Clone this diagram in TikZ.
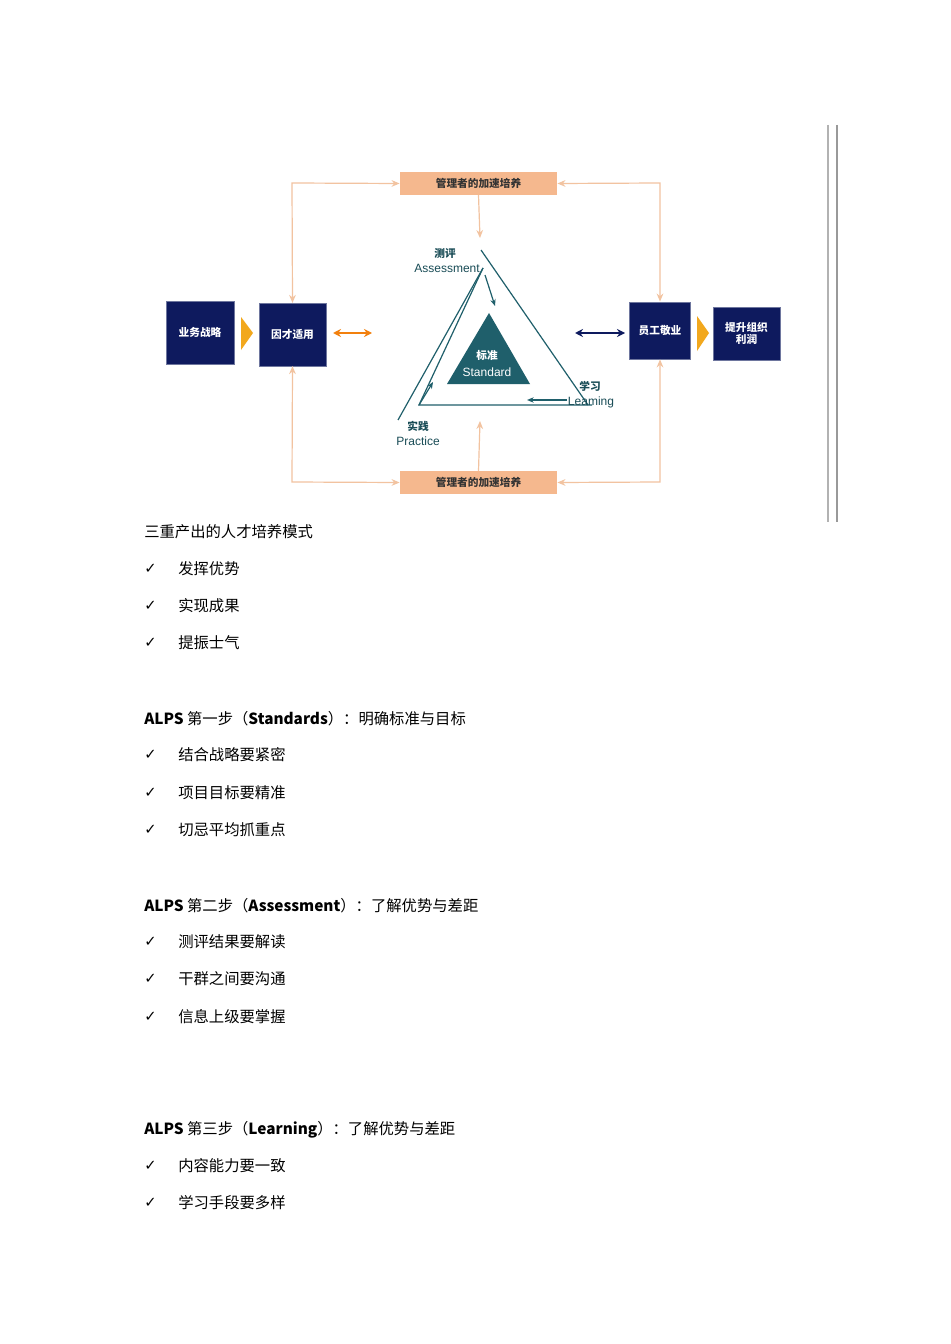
\documentclass[tikz,border=0pt]{standalone}
\usepackage{fontspec}
\setmainfont{Liberation Serif}
\newfontfamily\cjk{Noto Sans CJK SC}
\newfontfamily\dv{DejaVu Sans}
\newfontfamily\lsans{Liberation Sans}
\usetikzlibrary{arrows.meta}
\definecolor{navy}{HTML}{0E1A5E}
\definecolor{org}{HTML}{F5B88E}
\definecolor{orgl}{HTML}{F2C3A0}
\definecolor{teal}{HTML}{1F5F6B}
\definecolor{gold}{HTML}{F2A81D}
\begin{document}
\begin{tikzpicture}[x=0.75pt,y=-0.75pt,
 nbox/.style={draw=navy!60,fill=navy,text=white,font=\cjk\bfseries\fontsize{8}{9}\selectfont,align=center,inner sep=0},
 obox/.style={fill=org,text=black!80,font=\cjk\bfseries\fontsize{8}{9}\selectfont,inner sep=0},
 oline/.style={draw=orgl,line width=0.9pt,-{Stealth[length=6pt,width=5pt]}},
 tline/.style={draw=teal,line width=0.9pt},
 lab/.style={text=teal!80!black,font=\lsans\fontsize{9}{10}\selectfont,inner sep=0},
 body/.style={anchor=west,font=\cjk\fontsize{11.5}{13}\selectfont,inner sep=0},
 chk/.style={anchor=west,font=\dv\fontsize{11}{13}\selectfont,inner sep=0}]
\useasboundingbox (0,0) rectangle (950,1344);
\fill[white] (0,0) rectangle (950,1344);
% right bars
\draw[gray!60,line width=1.2pt] (828,125)--(828,522);
\draw[gray!80,line width=1.5pt] (837,125)--(837,522);
% boxes
\node[obox,minimum width=118pt,minimum height=17pt] (top) at (478.5,183.5) {管理者的加速培养};
\node[obox,minimum width=118pt,minimum height=17pt] (bot) at (478.5,482.5) {管理者的加速培养};
\node[nbox,minimum width=51pt,minimum height=47pt] (ywzl) at (200,332.5) {业务战略};
\node[nbox,minimum width=50pt,minimum height=47pt] (ycsy) at (292.5,334.5) {因才适用};
\node[nbox,minimum width=46pt,minimum height=43pt] (ygjy) at (660,330.5) {员工敬业};
\node[nbox,minimum width=50pt,minimum height=40pt] (tszz) at (746.5,333.5) {提升组织\\利润};
\fill[gold] (241,317)--(253,333)--(241,350)--cycle;
\fill[gold] (697,316)--(709,333)--(697,351)--cycle;
% orange connectors
\coordinate (tl) at (292,183); \coordinate (tr) at (660,183);
\coordinate (bl) at (292,482); \coordinate (br) at (660,482);
\draw[oline,{Stealth[length=6pt,width=5pt]}-{Stealth[length=6pt,width=5pt]}] (ycsy.north) -- (tl) -- (top.west);
\draw[oline,{Stealth[length=6pt,width=5pt]}-{Stealth[length=6pt,width=5pt]}] (ygjy.north) -- (tr) -- (top.east);
\draw[oline,{Stealth[length=6pt,width=5pt]}-{Stealth[length=6pt,width=5pt]}] (ycsy.south) -- (bl) -- (bot.west);
\draw[oline,{Stealth[length=6pt,width=5pt]}-{Stealth[length=6pt,width=5pt]}] (ygjy.south) -- (br) -- (bot.east);
\coordinate (ta) at (480,238); \coordinate (ba) at (480,421);
\draw[oline] (top.south) -- (ta);
\draw[oline] (bot.north) -- (ba);
\coordinate (la) at (333,333); \coordinate (lb) at (372,333);
\draw[draw=orange!80!brown,line width=1.2pt,{Stealth[length=6pt,width=6pt]}-{Stealth[length=6pt,width=6pt]}] (la) -- (lb);
\coordinate (ra) at (575,333); \coordinate (rb) at (625,333);
\draw[draw=navy,line width=1.2pt,{Stealth[length=6pt,width=6pt]}-{Stealth[length=6pt,width=6pt]}] (ra) -- (rb);
% triangle
\draw[tline] (483,268) -- (419,405) -- (592,405);
\draw[tline] (483,268) -- (398,420);
\draw[tline] (481,250) -- (588,405);
\draw[tline,-{Stealth[length=5pt,width=4pt]}] (485,275) -- (495,306);
\draw[tline,-{Stealth[length=5pt,width=4pt]}] (567,400) -- (527,400);
\draw[tline,-{Stealth[length=5pt,width=4pt]}] (419,405) -- (433,382);
\fill[teal] (489,313) -- (447,384) -- (530,384) -- cycle;
\node[text=white,font=\cjk\bfseries\fontsize{8}{9}\selectfont,inner sep=0] (bz) at (487,355) {标准};
\node[text=white,font=\lsans\fontsize{9}{10}\selectfont,inner sep=0] (st) at (487,372) {Standard};
\node[lab,font=\cjk\bfseries\fontsize{8}{9}\selectfont] (cp) at (445,253) {测评};
\node[lab] (as) at (447,268) {Assessment};
\node[lab,font=\cjk\bfseries\fontsize{8}{9}\selectfont] (xx) at (590,386) {学习};
\node[lab] (le) at (591,402) {Leaming};
\node[lab,font=\cjk\bfseries\fontsize{8}{9}\selectfont] (sj) at (418,426) {实践};
\node[lab] (pr) at (418,441) {Practice};
% body text
\node[body] (t0) at (144,532) {三重产出的人才培养模式};
\foreach \y/\t in {569/发挥优势,606/实现成果,643/提振士气,755/结合战略要紧密,793/项目目标要精准,830/切忌平均抓重点,942/测评结果要解读,979/干群之间要沟通,1017/信息上级要掌握,1166/内容能力要一致,1203/学习手段要多样}{
 \node[chk] at (144,\y) {✓};
 \node[body] at (178,\y) {\t};
}
\node[body] (h1) at (144,719) {\textbf{ALPS} {\cjk 第一步（}\textbf{Standards}{\cjk ）：明确标准与目标}};
\node[body] (h2) at (144,906) {\textbf{ALPS} {\cjk 第二步（}\textbf{Assessment}{\cjk ）：了解优势与差距}};
\node[body] (h3) at (144,1130) {\textbf{ALPS} {\cjk 第三步（}\textbf{Learning}{\cjk ）：了解优势与差距}};
\end{tikzpicture}
\end{document}
